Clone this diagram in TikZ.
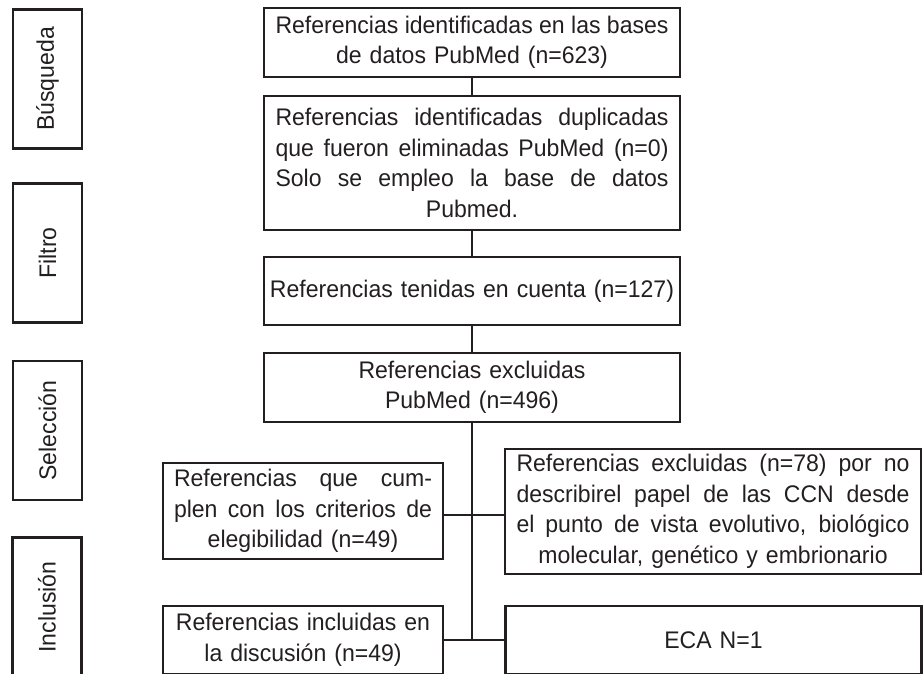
\documentclass[tikz,border=0pt]{standalone}
\usepackage{fontspec}
\setmainfont{Liberation Sans}[FakeStretch=0.96]
\definecolor{ink}{HTML}{231F20}
\newcommand{\justline}[1]{\makebox[\linewidth][s]{\spaceskip=.25em plus 1fil\relax #1}\\}

\begin{document}
\begin{tikzpicture}[x=1pt,y=-1pt,
  every node/.style={font=\fontsize{24}{30.5}\selectfont,text=ink},
  box/.style={draw=ink,line width=2.6pt,align=center,inner sep=0pt},
  wide/.style={box,minimum width=416pt,text width=393pt},
  half/.style={box,minimum width=280pt,text width=258pt},
  phase/.style={box,rotate=90,minimum width=139pt,minimum height=69pt},
  link/.style={draw=ink,line width=2.6pt}]
\useasboundingbox (0,0) rectangle (924,673);
\clip (0,0) rectangle (924,673);

% fases
\node[phase] (busq) at (47.5,79) {Búsqueda};
\node[phase] (filt) at (47.5,253) {Filtro};
\node[phase] (selec) at (47.5,430.5) {Selección};
\node[phase] (inclf) at (47,607) {Inclusión};

% flujo principal
\node[wide,minimum height=69pt] (ident) at (472,42.5) {\justline{Referencias identificadas en las bases}de datos PubMed (n=623)};
\node[wide,minimum height=134pt] (dupl) at (472,163) {\justline{Referencias identificadas duplicadas}\justline{que fueron eliminadas PubMed (n=0)}\justline{Solo se empleo la base de datos}Pubmed.};
\node[wide,text width=410pt,minimum height=68pt] (tenid) at (472,291) {Referencias tenidas en cuenta (n=127)};
\node[wide,minimum height=69pt] (exclu) at (472,387.5) {Referencias excluidas\\PubMed (n=496)};
\node[half,minimum height=96pt] (cumpl) at (303,511) {\justline{Referencias que cum-}\justline{plen con los criterios de}elegibilidad (n=49)};
\node[wide,minimum height=125pt] (noccn) at (713,511.5) {\justline{Referencias excluidas (n=78) por no}\justline{describirel papel de las CCN desde}\justline{el punto de vista evolutivo, biológico}molecular, genético y embrionario};
\node[half,minimum height=68pt] (inclu) at (303,640) {Referencias incluidas en\\la discusión (n=49)};
\node[wide,minimum height=68pt] (eca) at (713.5,640) {ECA N=1};
\coordinate (split) at (472,515);

\draw[link] (ident.south) -- (dupl.north);
\draw[link] (dupl.south) -- (tenid.north);
\draw[link] (tenid.south) -- (exclu.north);
\draw[link] (exclu.south) -- (exclu.south |- inclu.east);
\draw[link] (cumpl.east |- split) -- (noccn.west |- split);
\draw[link] (inclu.east) -- (eca.west);
\end{tikzpicture}
\end{document}
